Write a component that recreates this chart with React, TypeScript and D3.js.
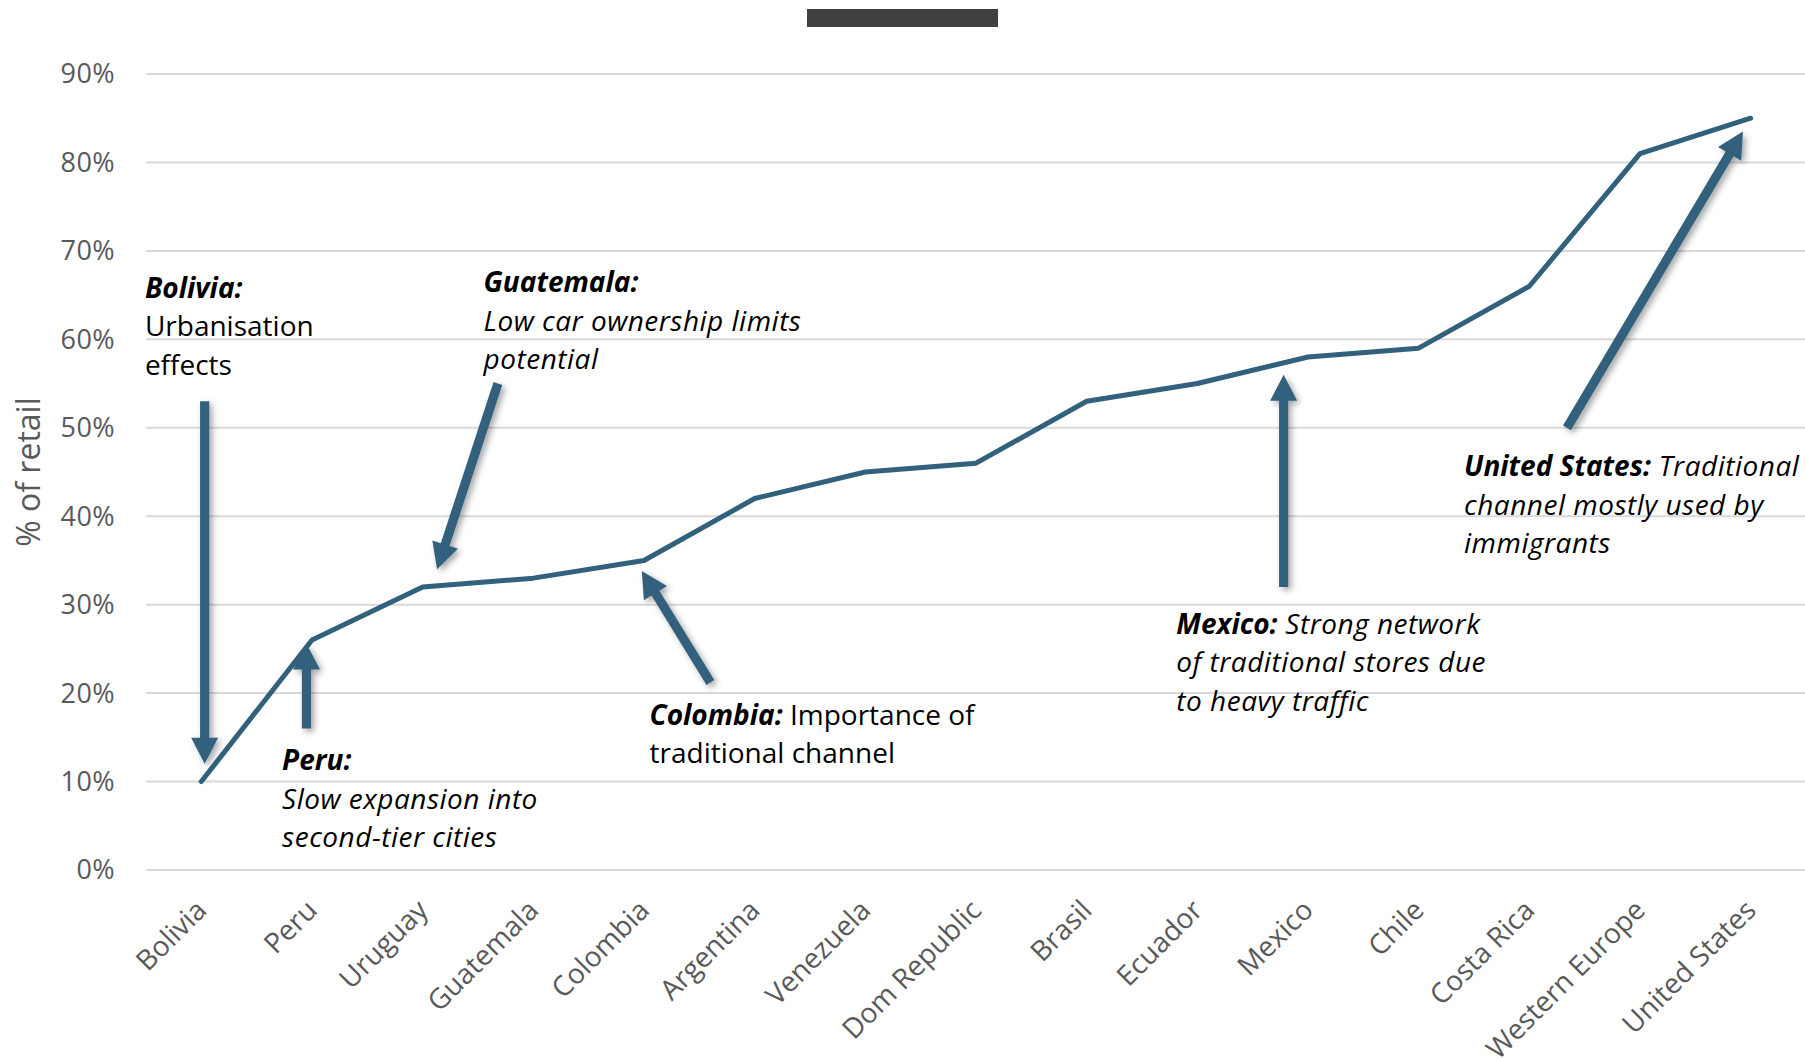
import React from "react";
import * as d3 from "d3";

// Share of retail sales through the traditional channel, by market
const categories = [
  "Bolivia",
  "Peru",
  "Uruguay",
  "Guatemala",
  "Colombia",
  "Argentina",
  "Venezuela",
  "Dom Republic",
  "Brasil",
  "Ecuador",
  "Mexico",
  "Chile",
  "Costa Rica",
  "Western Europe",
  "United States",
];
const shares = [10, 26, 32, 33, 35, 42, 45, 46, 53, 55, 58, 59, 66, 81, 85];
const yTicks = [0, 10, 20, 30, 40, 50, 60, 70, 80, 90];

// Callout arrows in chart units: [category index, percent]
const arrowFrom = [
  [0.03, 53],
  [0.95, 16],
  [2.68, 55],
  [4.6, 21.2],
  [9.78, 32],
  [12.34, 50],
];
const arrowTo = [
  [0.03, 12],
  [0.95, 25.6],
  [2.13, 34],
  [3.98, 33.8],
  [9.78, 56],
  [13.93, 83.5],
];

type Run = { t: string; b?: boolean; i?: boolean };
// Callout text, anchored at [category index, percent] of the first baseline
const noteAt = [
  [-0.51, 64.7],
  [2.55, 65.3],
  [0.73, 11.3],
  [4.05, 16.4],
  [8.81, 26.7],
  [11.41, 44.5],
];
const noteLines: Run[][][] = [
  [[{ t: "Bolivia:", b: true, i: true }], [{ t: "Urbanisation" }], [{ t: "effects" }]],
  [
    [{ t: "Guatemala:", b: true, i: true }],
    [{ t: "Low car ownership limits", i: true }],
    [{ t: "potential", i: true }],
  ],
  [
    [{ t: "Peru:", b: true, i: true }],
    [{ t: "Slow expansion into", i: true }],
    [{ t: "second-tier cities", i: true }],
  ],
  [
    [{ t: "Colombia:", b: true, i: true }, { t: " Importance of" }],
    [{ t: "traditional channel" }],
  ],
  [
    [{ t: "Mexico:", b: true, i: true }, { t: " Strong network", i: true }],
    [{ t: "of traditional stores due", i: true }],
    [{ t: "to heavy traffic", i: true }],
  ],
  [
    [{ t: "United States:", b: true, i: true }, { t: " Traditional", i: true }],
    [{ t: "channel mostly used by", i: true }],
    [{ t: "immigrants", i: true }],
  ],
];

const W = 1805;
const H = 1059;
const LINE = "#31617d";
const FONT = "'Open Sans', 'Noto Sans', sans-serif";

export default function App() {
  const x = d3.scaleBand<string>().domain(categories).range([146, 1806]).padding(0);
  const y = d3.scaleLinear().domain([0, 90]).range([870, 74]);
  const cx = (c: string) => (x(c) as number) + x.bandwidth() / 2;
  const xi = d3
    .scaleLinear()
    .domain([0, categories.length - 1])
    .range([cx(categories[0]), cx(categories[categories.length - 1])]);

  const line = d3
    .line<number>()
    .x((_, k) => cx(categories[k]))
    .y((d) => y(d));

  const arrowPath = (a: number[], b: number[]) => {
    const x0 = xi(a[0]);
    const y0 = y(a[1]);
    const x1 = xi(b[0]);
    const y1 = y(b[1]);
    const dx = x1 - x0;
    const dy = y1 - y0;
    const len = Math.hypot(dx, dy);
    const ux = dx / len;
    const uy = dy / len;
    const nx = -uy;
    const ny = ux;
    const headLen = 26;
    const hw = 13.5;
    const sw = 4.6;
    const bx = x1 - ux * headLen;
    const by = y1 - uy * headLen;
    const pts = [
      [x0 + nx * sw, y0 + ny * sw],
      [bx + nx * sw, by + ny * sw],
      [bx + nx * hw, by + ny * hw],
      [x1, y1],
      [bx - nx * hw, by - ny * hw],
      [bx - nx * sw, by - ny * sw],
      [x0 - nx * sw, y0 - ny * sw],
    ];
    return "M" + pts.map((p) => p.join(",")).join("L") + "Z";
  };

  return (
    <div style={{ position: "absolute", left: 0, top: 0 }}>
      <svg width={W} height={H} style={{ display: "block", background: "#fff" }}>
        <defs>
          <filter id="arrowShadow" x="-50%" y="-50%" width="200%" height="200%">
            <feDropShadow dx="3" dy="3" stdDeviation="3" floodColor="#000" floodOpacity="0.35" />
          </filter>
        </defs>

        {/* title placeholder bar */}
        <rect x={807} y={9} width={191} height={18} fill="#404040" />

        {/* gridlines and y tick labels */}
        {yTicks.map((t) => (
          <g key={t}>
            <line x1={146} x2={W} y1={y(t)} y2={y(t)} stroke="#d9d9d9" strokeWidth={2} />
            <text
              x={115}
              y={y(t)}
              dy="0.35em"
              textAnchor="end"
              fontFamily={FONT}
              fontSize={27}
              letterSpacing={0.4}
              fill="#595959"
            >
              {t}%
            </text>
          </g>
        ))}

        {/* y axis title */}
        <text
          transform={`translate(29, ${(y(0) + y(90)) / 2}) rotate(-90)`}
          textAnchor="middle"
          dy="0.35em"
          fontFamily={FONT}
          fontSize={32}
          fill="#595959"
        >
          % of retail
        </text>

        {/* x category labels */}
        {categories.map((c) => (
          <text
            key={c}
            transform={`translate(${cx(c)}, 905) rotate(-45)`}
            textAnchor="end"
            dy="0.35em"
            fontFamily={FONT}
            fontSize={28}
            fill="#595959"
          >
            {c}
          </text>
        ))}

        {/* series line */}
        <path
          d={line(shares) ?? ""}
          fill="none"
          stroke={LINE}
          strokeWidth={5}
          strokeLinejoin="round"
          strokeLinecap="round"
        />

        {/* callout arrows */}
        {arrowFrom.map((a, k) => (
          <path key={k} d={arrowPath(a, arrowTo[k])} fill={LINE} filter="url(#arrowShadow)" />
        ))}

        {/* callout notes */}
        {noteAt.map((p, k) => (
          <text key={k} fontFamily={FONT} fontSize={28} fill="#000">
            {noteLines[k].map((runs, li) => (
              <tspan key={li} x={xi(p[0])} y={y(p[1]) + li * 38.5}>
                {runs.map((r, ri) => (
                  <tspan
                    key={ri}
                    fontWeight={r.b ? 700 : 400}
                    fontStyle={r.i ? "italic" : "normal"}
                    letterSpacing={r.i && !r.b ? 0.5 : 0}
                  >
                    {r.t}
                  </tspan>
                ))}
              </tspan>
            ))}
          </text>
        ))}
      </svg>
    </div>
  );
}
